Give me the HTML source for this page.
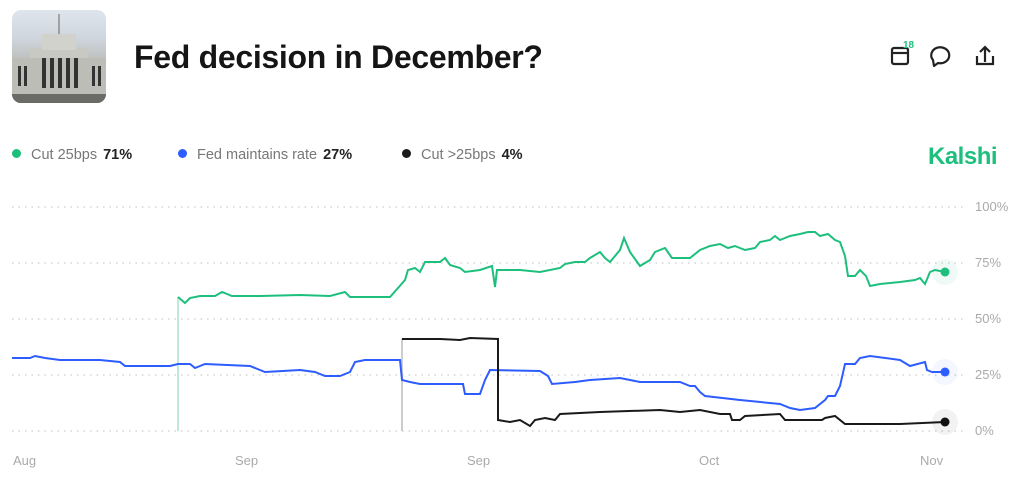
<!DOCTYPE html>
<html><head><meta charset="utf-8"><style>
body{margin:0;width:1024px;height:480px;background:#fff;font-family:"Liberation Sans",sans-serif;overflow:hidden;position:relative}
.img{position:absolute;left:12px;top:10px;width:94px;height:93px;border-radius:9px;overflow:hidden;background:linear-gradient(#dfe5ec 0%,#cfd6de 30%,#b9b9b4 60%,#a8a8a2 90%,#555 100%)}
.title{position:absolute;left:134px;top:39px;font-size:32px;font-weight:bold;color:#151515;letter-spacing:-0.3px}
.leg{position:absolute;top:147px;font-size:14.5px;color:#777}
.leg b{color:#222;margin-left:6px}
.dot{display:inline-block;width:9px;height:9px;border-radius:50%;margin-right:10px;vertical-align:1px}
.kal{position:absolute;left:928px;top:143px;font-size:24px;font-weight:bold;color:#1dbf7d;letter-spacing:-0.5px}
.ax{font-size:13px;fill:#aaa}
</style></head><body>
<div class="img"><svg width="94" height="93"><rect x="18" y="38" width="58" height="46" fill="#c9c9c4"/><rect x="30" y="24" width="34" height="16" fill="#d2d2cd"/><rect x="0" y="48" width="94" height="36" fill="#bdbdb8"/><g fill="#333"><rect x="30" y="48" width="4" height="30"/><rect x="38" y="48" width="4" height="30"/><rect x="46" y="48" width="4" height="30"/><rect x="54" y="48" width="4" height="30"/><rect x="62" y="48" width="4" height="30"/><rect x="6" y="56" width="3" height="20"/><rect x="12" y="56" width="3" height="20"/><rect x="80" y="56" width="3" height="20"/><rect x="86" y="56" width="3" height="20"/></g><rect x="0" y="84" width="94" height="9" fill="#6a6a66"/><line x1="47" y1="4" x2="47" y2="24" stroke="#666"/></svg></div>
<div class="title">Fed decision in December?</div>
<svg style="position:absolute;left:885px;top:40px" width="120" height="36">
<g fill="none" stroke="#222" stroke-width="2.2"><rect x="7" y="8" width="16" height="16" rx="2"/><line x1="7" y1="13" x2="23" y2="13"/>
<path d="M48 20 a9 8 0 1 1 5 3 l-4 3 z" stroke-linejoin="round"/>
<path d="M92 16 v8 h16 v-8 M100 22 v-14 M95 12 l5-5 5 5"/></g>
<text x="18" y="8" font-size="10" font-weight="bold" fill="#1dbf7d">18</text></svg>
<div class="leg" style="left:12px"><span class="dot" style="background:#1dbf7d"></span>Cut 25bps<b>71%</b></div>
<div class="leg" style="left:178px"><span class="dot" style="background:#2d5cff"></span>Fed maintains rate<b>27%</b></div>
<div class="leg" style="left:402px"><span class="dot" style="background:#1a1a1a"></span>Cut &gt;25bps<b>4%</b></div>
<div class="kal">Kalshi</div>
<svg style="position:absolute;left:0;top:0" width="1024" height="480">
<g stroke="#ccc" stroke-dasharray="1.5 5" stroke-width="1.2">
<line x1="12" y1="207" x2="966" y2="207"/><line x1="12" y1="263" x2="966" y2="263"/><line x1="12" y1="319" x2="966" y2="319"/><line x1="12" y1="375" x2="966" y2="375"/><line x1="12" y1="431" x2="966" y2="431"/></g>
<g class="ax"><text x="975" y="211">100%</text><text x="975" y="267">75%</text><text x="975" y="323">50%</text><text x="975" y="379">25%</text><text x="975" y="435">0%</text>
<text x="13" y="465">Aug</text><text x="235" y="465">Sep</text><text x="467" y="465">Sep</text><text x="699" y="465">Oct</text><text x="920" y="465">Nov</text></g>
<line x1="178" y1="431" x2="178" y2="297" stroke="#bfe9d6" stroke-width="2"/>
<line x1="402" y1="431" x2="402" y2="339" stroke="#ccc" stroke-width="2"/>
<polyline fill="none" stroke="#1dbf7d" stroke-width="2" points="178,297 185,303 190,298 200,296 215,296 222,292 232,296 260,296 300,295 330,296 345,292 350,297 390,297 398,288 405,280 408,270 415,268 420,272 425,262 440,262 445,258 450,265 460,268 465,272 480,270 492,266 495,287 497,270 520,270 540,272 560,268 565,264 575,262 585,262 590,258 600,252 605,258 610,262 620,250 624,238 630,252 640,266 650,260 655,252 665,248 672,258 690,258 700,250 710,246 720,244 728,248 735,246 745,250 755,248 760,242 770,240 775,236 780,240 790,236 800,234 808,232 815,232 820,236 828,234 835,240 840,242 845,256 848,276 855,276 860,270 866,276 870,286 880,284 900,282 915,280 920,278 925,284 930,272 935,270 945,272"/>
<polyline fill="none" stroke="#2d5cff" stroke-width="2" points="12,358 30,358 35,356 45,358 60,360 100,360 120,362 125,366 170,366 178,364 190,364 195,368 205,364 250,366 260,370 265,372 300,370 315,372 325,376 340,376 350,372 355,362 365,360 400,360 402,380 410,382 420,384 463,384 465,394 480,394 485,380 490,370 540,371 548,376 552,384 575,382 590,380 620,378 640,382 680,382 690,386 695,386 700,392 705,396 740,400 780,404 790,408 800,410 815,408 825,400 828,396 835,396 840,386 845,364 855,364 860,358 870,356 900,360 910,366 925,362 927,370 932,372 945,372"/>
<polyline fill="none" stroke="#1a1a1a" stroke-width="2" points="402,339 440,339 460,340 470,338 498,339 498,420 510,422 520,420 530,426 535,420 545,418 555,420 560,414 600,412 660,410 680,412 700,410 720,414 730,414 732,420 740,420 745,416 780,414 785,420 822,420 825,418 835,416 845,424 900,424 945,422"/>
<circle cx="945" cy="272" r="13" fill="#1dbf7d" opacity="0.07"/><circle cx="945" cy="272" r="4.5" fill="#1dbf7d"/>
<circle cx="945" cy="372" r="13" fill="#2d5cff" opacity="0.05"/><circle cx="945" cy="372" r="4.5" fill="#2d5cff"/>
<circle cx="945" cy="422" r="13" fill="#000" opacity="0.05"/><circle cx="945" cy="422" r="4.5" fill="#111"/>
</svg>
</body></html>
